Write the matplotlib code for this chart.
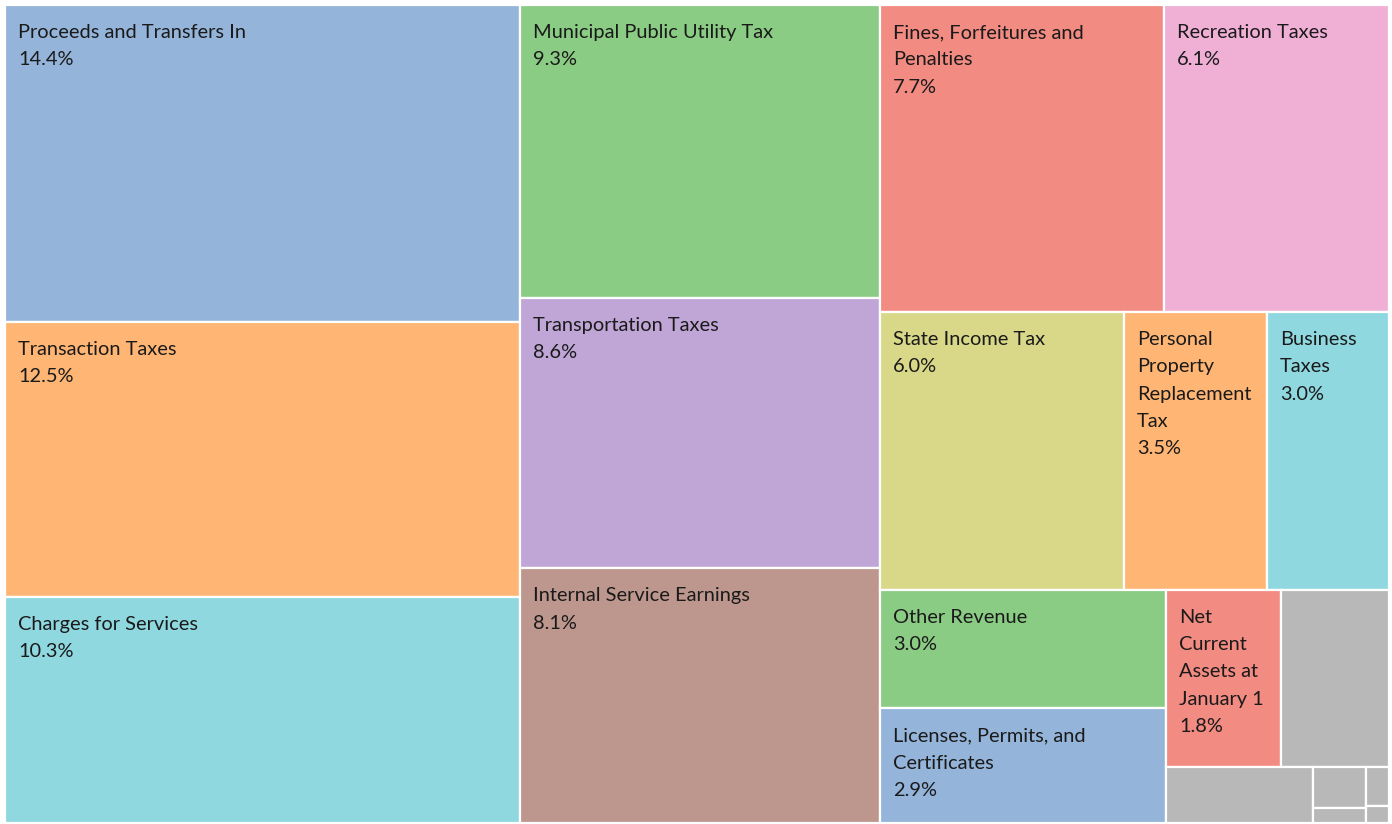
import matplotlib
matplotlib.use("Agg")
import matplotlib.pyplot as plt
from matplotlib.patches import Rectangle

# revenue categories, share of total (%)
labels = ["Proceeds and Transfers In", "Transaction Taxes", "Charges for Services",
          "Municipal Public Utility Tax", "Transportation Taxes", "Internal Service Earnings",
          "Fines, Forfeitures and\nPenalties", "Recreation Taxes",
          "State Income Tax", "Personal\nProperty\nReplacement\nTax", "Business\nTaxes",
          "Other Revenue", "Licenses, Permits, and\nCertificates",
          "Net\nCurrent\nAssets at\nJanuary 1", "",
          "", "", "", "", ""]
values = [14.4, 12.5, 10.3,
          9.3, 8.6, 8.1,
          7.7, 6.1,
          6.0, 3.5, 3.0,
          3.0, 2.9,
          1.8, 1.7,
          0.72, 0.19, 0.07, 0.08, 0.035]
colors = ["#94B4DA", "#FFB573", "#8FD8E0",
          "#8BCC85", "#C0A6D6", "#BD978E",
          "#F28B82", "#F0B0D6",
          "#D8D888", "#FFB573", "#8FD8E0",
          "#8BCC85", "#94B4DA",
          "#F28B82", "#B8B8B8",
          "#B8B8B8", "#B8B8B8", "#B8B8B8", "#B8B8B8", "#B8B8B8"]
# how many items go in each strip of the layout
strips = [3, 3, 2, 3, 2, 2, 1, 2, 1, 1]


def strip_layout(vals, strips, x, y, w, h):
    rects = []
    i = 0
    for n in strips:
        grp = vals[i:i + n]
        s = sum(grp)
        rem = sum(vals[i:])
        if w >= h:
            # column on the left, items stacked
            cw = w * s / rem
            yy = y
            for v in grp:
                hh = h * v / s
                rects.append((x, yy, cw, hh))
                yy += hh
            x += cw
            w -= cw
        else:
            # row on top, items side by side
            rh = h * s / rem
            xx = x
            for v in grp:
                ww = w * v / s
                rects.append((xx, y, ww, rh))
                xx += ww
            y += rh
            h -= rh
        i += n
    return rects


W, H = 1384, 818
fig = plt.figure(figsize=(13.92, 8.24), dpi=100)
ax = fig.add_axes([5 / 1392, 1 / 824, W / 1392, H / 824])
ax.set_xlim(0, W)
ax.set_ylim(H, 0)
ax.axis("off")

rects = strip_layout(values, strips, 0, 0, W, H)
for (x, y, w, h), lab, v, c in zip(rects, labels, values, colors):
    ax.add_patch(Rectangle((x, y), w, h, facecolor=c, edgecolor="white", linewidth=1.6))
    if lab:
        ax.annotate(lab + "\n" + f"{v:.1f}%", xy=(x, y), xytext=(13, -19),
                    textcoords="offset pixels", ha="left", va="top",
                    fontsize=14.4, family="Lato", color="#1a1a1a", linespacing=1.74)

fig.savefig("out.png", dpi=100)
